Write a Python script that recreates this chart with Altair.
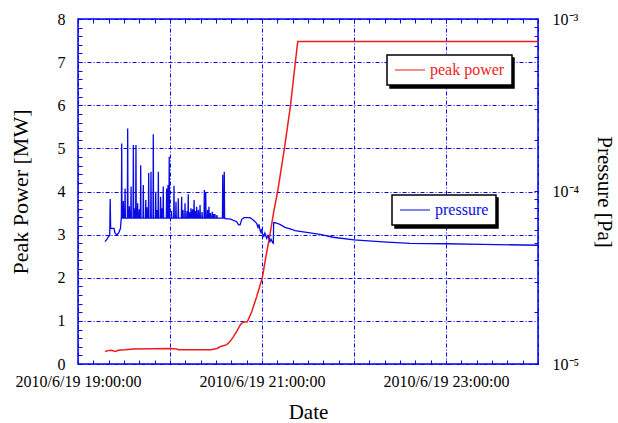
import altair as alt
import pandas as pd

# ---------------- data ----------------
# time axis: minutes after 2010/6/19 19:00:00
power_min = [17.6, 19.6, 21.5, 23.5, 24.8, 26.1, 30.7, 35.9, 60.0, 63.9, 65.9,
             86.7, 90.7, 92.6, 97.0, 99.1, 101.3, 103.7, 105.7, 107.4, 110.4,
             113.3, 116.5, 120.2, 122.6, 125.2, 127.5, 130.2, 134.5, 138.5,
             141.7, 143.3, 300.0]
power_mw = [0.29, 0.31, 0.32, 0.30, 0.29, 0.32, 0.33, 0.35, 0.36, 0.35, 0.33,
            0.33, 0.36, 0.40, 0.45, 0.52, 0.63, 0.77, 0.90, 0.97, 0.98,
            1.21, 1.56, 2.00, 2.50, 3.00, 3.50, 4.00, 4.97, 5.97,
            6.98, 7.48, 7.48]

# pressure trace outside the discharge spikes
press_min = [17.6, 18.9, 20.2, 20.7, 21.0, 21.3, 22.2, 23.5, 24.1, 25.4, 26.7,
             27.7, 28.2,
             97.0, 99.1, 103.5, 104.7, 105.7, 106.8, 108.3, 112.2, 114.3,
             116.5, 117.4, 118.0, 118.7, 119.3, 119.9, 120.2, 121.2, 121.9,
             123.1, 123.9, 125.2, 125.9, 126.9, 127.4, 127.6, 128.5, 131.7,
             135.0, 139.4, 141.5, 149.1, 157.8, 166.3, 180.0, 198.9, 216.5,
             240.0, 264.1, 300.0]
press_pa = [5.12e-5, 5.30e-5, 5.52e-5, 5.55e-5, 9.05e-5, 6.10e-5, 6.12e-5,
            6.12e-5, 5.75e-5, 5.60e-5, 5.80e-5, 6.12e-5, 7.00e-5,
            6.93e-5, 6.93e-5, 6.68e-5, 6.40e-5, 6.40e-5, 6.90e-5, 7.05e-5,
            7.05e-5, 6.84e-5, 6.54e-5, 6.20e-5, 6.45e-5, 5.98e-5, 5.80e-5,
            6.05e-5, 5.72e-5, 5.50e-5, 5.75e-5, 5.35e-5, 5.55e-5, 5.12e-5,
            5.30e-5, 5.05e-5, 5.01e-5, 6.59e-5, 6.59e-5, 6.45e-5, 6.20e-5,
            6.04e-5, 5.93e-5, 5.80e-5, 5.65e-5, 5.43e-5, 5.24e-5, 5.10e-5,
            5.01e-5, 4.98e-5, 4.94e-5, 4.88e-5]

# discharge spikes (time, peak pressure) on a baseline of spike_base
spike_base = 7.0e-5
spike_min = [28.5, 29.6, 30.7, 32.4, 33.5, 34.6, 36.1, 37.2, 37.8, 38.9, 40.0,
             40.9, 42.6, 44.2, 45.0, 46.1, 47.6, 49.1, 50.7, 51.5, 52.4, 53.9,
             54.8, 55.6, 57.8, 58.7, 59.5, 61.0, 62.6, 63.9, 65.4, 67.6, 68.5,
             69.8, 71.1, 71.9, 73.0, 73.7, 74.7, 75.7, 76.6, 77.4, 78.5, 79.6,
             80.9, 82.4, 83.3, 84.5, 85.4, 86.4, 87.6, 88.5, 89.3, 90.6, 94.4,
             95.4]
spike_pa = [1.90e-4, 8.8e-5, 1.04e-4, 2.32e-4, 8.2e-5, 1.07e-4, 1.86e-4, 8.0e-5,
            1.86e-4, 8.54e-5, 7.9e-5, 1.42e-4, 1.09e-4, 8.93e-5, 8.1e-5, 1.28e-4,
            1.30e-4, 2.15e-4, 9.97e-5, 7.8e-5, 1.30e-4, 9.33e-5, 8.0e-5, 1.07e-4,
            1.04e-4, 1.09e-4, 1.59e-4, 7.7e-5, 1.08e-4, 8.73e-5, 9.13e-5, 9.33e-5,
            7.8e-5, 8.54e-5, 7.7e-5, 9.63e-5, 7.6e-5, 7.99e-5, 7.9e-5, 8.93e-5,
            7.7e-5, 8.16e-5, 7.8e-5, 8.35e-5, 7.6e-5, 1.02e-4, 9.97e-5, 7.8e-5,
            8.16e-5, 7.5e-5, 7.64e-5, 7.4e-5, 7.41e-5, 7.3e-5, 1.25e-4, 1.30e-4]

# ---------------- tables ----------------
start = pd.Timestamp("2010-06-19 19:00:00")


def to_time(minutes):
    return (start + pd.to_timedelta(minutes, unit="m")).round("s")


df_power = pd.DataFrame({"t": to_time(power_min), "v": power_mw})
df_power["s"] = "peak power"

rows = list(zip(press_min, press_pa))
for m, p in zip(spike_min, spike_pa):
    rows += [(m - 0.2, spike_base), (m, p), (m + 0.2, spike_base)]
rows.sort()
df_press = pd.DataFrame({"t": to_time([r[0] for r in rows]), "p": [r[1] for r in rows]})
df_press["s"] = "pressure"

# ---------------- styling ----------------
BLUE = "#0000ff"
RED = "#ee1c1c"
LINE_BLUE = "#0a0ae6"
FONT = "Liberation Serif"
FONT_SIZE = 16
TICK = 4
LEG_POWER = (309, 36)      # legend box position inside the plot area
LEG_PRESS = (314, 176)
SHADOW = 3
SYMBOL_LEN = 30
LABEL_OFFSET = 4
# label widths (em units of Times-metric serif) used to size the shadow boxes
EM_PEAK = 4.637
EM_PRESS = 3.332


def dt(h, m=0):
    return alt.DateTime(year=2010, month=6, date=19 + h // 24, hours=h % 24, minutes=m)


hour_ticks = [dt(h) for h in range(19, 25)]
minor_x = [dt(h, m) for h in range(19, 24) for m in range(10, 60, 10)]
x_scale = alt.Scale(domain=[dt(19), dt(24)], nice=False)

left_major = list(range(0, 9))
left_minor = [round(i * 0.2, 1) for i in range(41) if i % 5]
right_major = [1e-5, 1e-4, 1e-3]
right_minor = [round(k * 10.0 ** e, 8) for e in (-5, -4) for k in range(2, 10)]

y_power = alt.Scale(domain=[0, 8], nice=False, zero=False)
y_press = alt.Scale(type="log", domain=[1e-5, 1e-3], nice=False)

# main axes
bottom_axis = alt.Axis(
    orient="bottom", values=hour_ticks, format="%Y/%-m/%-d %H:%M:%S",
    labelExpr="hours(datum.value) % 2 == 1 ? datum.label : ''",
    labelFlush=False, labelOverlap=False, labelPadding=9,
    offset=-TICK, tickSize=TICK, domain=False, grid=True,
    title="Date", titlePadding=12)
left_axis = alt.Axis(
    orient="left", values=left_major, labelOverlap=False, labelPadding=13,
    offset=-TICK, tickSize=TICK, domain=False, grid=True,
    title="Peak Power [MW]", titlePadding=25, titleFontSize=22)
right_axis = alt.Axis(
    orient="right", values=right_major,
    labelExpr=("datum.value < 2e-5 ? '10⁻⁵' : datum.value < 2e-4 ? '10⁻⁴' : '10⁻³'"),
    labelOverlap=False, labelPadding=14, labelAlign="left",
    offset=-TICK, tickSize=TICK, domain=False, grid=False,
    title="Pressure [Pa]", titlePadding=15)
top_axis = alt.Axis(orient="top", values=hour_ticks + minor_x, labels=False,
                    offset=-TICK, tickSize=TICK, domain=False, grid=False, title=None)

# minor tick axes (no labels, no grid)
bottom_minor = alt.Axis(orient="bottom", values=minor_x, labels=False, offset=-TICK,
                        tickSize=TICK, domain=False, grid=False, title=None)
left_minor_axis = alt.Axis(orient="left", values=left_minor, labels=False, offset=-TICK,
                           tickSize=TICK, domain=False, grid=False, title=None)
right_minor_axis = alt.Axis(orient="right", values=right_minor, labels=False,
                            offset=-TICK, tickSize=TICK, domain=False, grid=False,
                            title=None)


def legend(pos, color):
    return alt.Legend(title=None, orient="none", legendX=pos[0], legendY=pos[1],
                      labelColor=color, zindex=1, symbolSize=SYMBOL_LEN ** 2)


def shadow_legend(pos, label_em):
    # a text-free black legend of the same size, drawn offset beneath the real one
    length = SYMBOL_LEN + label_em * FONT_SIZE
    return alt.Legend(title=None, orient="none", legendX=pos[0] + SHADOW,
                      legendY=pos[1] + SHADOW, labelExpr="''", fillColor="black",
                      strokeColor="black", zindex=0, symbolSize=length ** 2)


power_shadow = alt.Chart(df_power).mark_line(opacity=0).encode(
    x=alt.X("t:T", scale=x_scale, axis=None),
    y=alt.Y("v:Q", scale=y_power, axis=None),
    color=alt.Color("s:N", scale=alt.Scale(domain=["peak power"], range=["black"]),
                    legend=shadow_legend(LEG_POWER, EM_PEAK)),
)
press_shadow = alt.Chart(df_press).mark_line(opacity=0).encode(
    x=alt.X("t:T", scale=x_scale, axis=None),
    y=alt.Y("p:Q", scale=y_press, axis=None),
    color=alt.Color("s:N", scale=alt.Scale(domain=["pressure"], range=["black"]),
                    legend=shadow_legend(LEG_PRESS, EM_PRESS)),
)

power = alt.Chart(df_power).mark_line(strokeWidth=1.5).encode(
    x=alt.X("t:T", scale=x_scale, axis=bottom_axis),
    y=alt.Y("v:Q", scale=y_power, axis=left_axis),
    color=alt.Color("s:N", scale=alt.Scale(domain=["peak power"], range=[RED]),
                    legend=legend(LEG_POWER, RED)),
)
power_ticks = alt.Chart(df_power).mark_line(opacity=0).encode(
    x=alt.X("t:T", scale=x_scale, axis=bottom_minor),
    y=alt.Y("v:Q", scale=y_power, axis=left_minor_axis),
)

pressure = alt.Chart(df_press).mark_line(strokeWidth=1.3).encode(
    x=alt.X("t:T", scale=x_scale, axis=top_axis),
    y=alt.Y("p:Q", scale=y_press, axis=right_axis),
    color=alt.Color("s:N", scale=alt.Scale(domain=["pressure"], range=[LINE_BLUE]),
                    legend=legend(LEG_PRESS, LINE_BLUE)),
)
pressure_ticks = alt.Chart(df_press).mark_line(opacity=0).encode(
    x=alt.X("t:T", scale=x_scale, axis=None),
    y=alt.Y("p:Q", scale=y_press, axis=right_minor_axis),
)

left_group = alt.layer(power, power_ticks).resolve_axis(x="independent", y="independent")
right_group = alt.layer(pressure, pressure_ticks).resolve_axis(x="independent", y="independent")

chart = (
    alt.layer(power_shadow, press_shadow, left_group, right_group)
    .resolve_scale(y="independent", color="independent")
    .resolve_axis(x="independent")
    .properties(width=460, height=345,
                padding={"left": 78, "top": 19, "right": 80, "bottom": 59},
                autosize=alt.AutoSizeParams(type="none"),
                background="white")
    .configure_view(stroke=BLUE, strokeWidth=1.5)
    .configure_axis(labelFont=FONT, labelFontSize=FONT_SIZE, labelColor="black",
                    titleFont=FONT, titleFontSize=21, titleFontWeight="normal",
                    titleColor="black", tickColor=BLUE, tickWidth=1, ticks=True,
                    gridColor=BLUE, gridWidth=1, gridDash=[4, 2, 1, 2])
    .configure_legend(labelFont=FONT, labelFontSize=FONT_SIZE, strokeColor="black",
                      strokeWidth=1.5, fillColor="white", padding=7,
                      symbolType="stroke", symbolStrokeWidth=1.2,
                      labelOffset=LABEL_OFFSET, clipHeight=16)
)

chart.save("out.html", embed_options={"renderer": "svg", "actions": False})
